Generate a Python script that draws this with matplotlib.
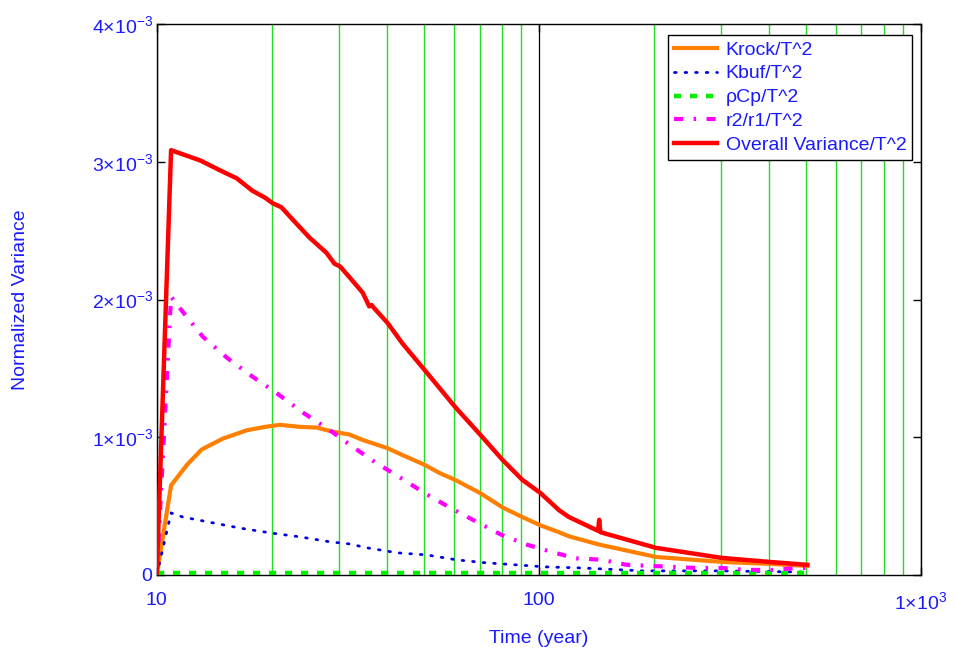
import matplotlib
matplotlib.use("Agg")
import matplotlib.pyplot as plt
from matplotlib.ticker import FixedLocator, FixedFormatter, NullFormatter

plt.rcParams['font.family'] = ['Liberation Sans', 'DejaVu Sans']
plt.rcParams['mathtext.fontset'] = 'custom'
plt.rcParams['mathtext.rm'] = 'Liberation Sans'
plt.rcParams['mathtext.it'] = 'Liberation Sans'

BLUE = '#1a1aff'

# ---- data ----
t_total = [10, 10.9, 13.0, 14.6, 16.2, 17.8, 19.2, 20.1, 21.2, 22.7, 25.1, 27.8, 29.2, 30.2, 32.0,
           34.6, 36.0, 36.5, 37.0, 40.2, 44.0, 50.2, 60.4, 70.2, 80.4, 90.6, 101, 113, 120,
           143, 144, 145, 203, 302, 402, 505]
v_total = [0, 3.085, 3.01, 2.94, 2.88, 2.79, 2.74, 2.70, 2.67, 2.58, 2.45, 2.34, 2.26, 2.24, 2.16,
           2.05, 1.95, 1.96, 1.94, 1.83, 1.68, 1.49, 1.22, 1.02, 0.835, 0.69, 0.595, 0.47, 0.42,
           0.32, 0.40, 0.31, 0.196, 0.123, 0.094, 0.073]

t_krock = [10, 10.9, 12.0, 13.1, 14.9, 17.2, 19.2, 21.0, 23.7, 26.2, 28.9, 31.9, 34.6, 40.2, 44.0,
           50.2, 55.0, 60.4, 70.2, 80.4, 90.6, 101, 113, 120, 144, 203, 302, 402, 505]
v_krock = [0, 0.65, 0.80, 0.91, 0.99, 1.05, 1.075, 1.09, 1.075, 1.07, 1.04, 1.02, 0.98, 0.92, 0.87,
           0.80, 0.74, 0.69, 0.595, 0.49, 0.42, 0.36, 0.31, 0.28, 0.22, 0.13, 0.094, 0.08, 0.065]

t_kbuf = [10, 10.9, 11.7, 13.9, 16.5, 19.8, 23.7, 28.4, 31.9, 35.6, 42.7, 50.9, 61, 73, 87, 104,
          130, 188, 297, 503]
v_kbuf = [0, 0.45, 0.42, 0.38, 0.34, 0.305, 0.276, 0.24, 0.225, 0.196, 0.16, 0.145, 0.109, 0.087,
          0.073, 0.058, 0.05, 0.029, 0.029, 0.02]

t_rhocp = [10, 20, 50, 100, 200, 505]
v_rhocp = [0.015, 0.015, 0.015, 0.015, 0.015, 0.015]

t_r2r1 = [10, 10.9, 11.7, 13.2, 15.3, 17.8, 20.6, 24.1, 28.4, 32.6, 37.2, 43.2, 50.2, 58.4, 68.8,
          80, 93, 108, 125, 146, 170, 198, 259, 302, 350, 410, 475, 505]
v_r2r1 = [0, 2.02, 1.91, 1.73, 1.575, 1.44, 1.32, 1.18, 1.05, 0.93, 0.82, 0.71, 0.595, 0.49, 0.385,
          0.29, 0.22, 0.167, 0.12, 0.11, 0.073, 0.065, 0.05, 0.05, 0.036, 0.036, 0.05, 0.05]

labels = ['Krock/T^2', 'Kbuf/T^2', 'ρCp/T^2', 'r2/r1/T^2', 'Overall Variance/T^2']

y_ticks = [0, 1e-3, 2e-3, 3e-3, 4e-3]
y_ticklabels = ['0', r'$1{\times}10^{-3}$', r'$2{\times}10^{-3}$', r'$3{\times}10^{-3}$', r'$4{\times}10^{-3}$']
x_ticks = [10, 100, 1000]
x_ticklabels = ['10', '100', r'$1{\times}10^{3}$']
x_minor = [20, 30, 40, 50, 60, 70, 80, 90, 200, 300, 400, 500, 600, 700, 800, 900]

s = 1e-3
fig = plt.figure(figsize=(9.56, 6.54), dpi=100)
ax = fig.add_axes([0.164, 0.121, 0.799, 0.842])
ax.set_xscale('log')

ax.plot(t_krock, [v * s for v in v_krock], color='#ff8000', lw=3.0, label=labels[0], zorder=4)
ax.plot(t_kbuf, [v * s for v in v_kbuf], color='#0000e0', lw=2.0, linestyle=(0, (0.6, 3.2)),
        dash_capstyle='round', label=labels[1], zorder=4)
ax.plot(t_rhocp, [v * s for v in v_rhocp], color='#00ee00', lw=3.2, linestyle=(0, (1.6, 2.0)),
        label=labels[2], zorder=4)
ax.plot(t_r2r1, [v * s for v in v_r2r1], color='#ff00ff', lw=3.0, linestyle=(0, (2.2, 2.5, 0.6, 2.5)),
        label=labels[3], zorder=4)
ax.plot(t_total, [v * s for v in v_total], color='#ff0000', lw=3.2, label=labels[4], zorder=5)

ax.set_xlim(10, 1000)
ax.set_ylim(0, 4e-3)

ax.xaxis.set_major_locator(FixedLocator(x_ticks))
ax.xaxis.set_major_formatter(FixedFormatter(x_ticklabels))
ax.xaxis.set_minor_locator(FixedLocator(x_minor))
ax.xaxis.set_minor_formatter(NullFormatter())
ax.yaxis.set_major_locator(FixedLocator(y_ticks))
ax.yaxis.set_major_formatter(FixedFormatter(y_ticklabels))

ax.grid(True, which='major', axis='x', color='black', lw=0.9, zorder=1)
ax.grid(True, which='minor', axis='x', color='#22dd22', lw=1.0, zorder=1)
ax.set_axisbelow(True)

ax.tick_params(axis='both', which='major', direction='in', length=6, width=1,
               labelsize=14, labelcolor=BLUE, top=True, right=True)
ax.tick_params(axis='x', which='major', pad=12)
ax.tick_params(axis='y', which='major', pad=3)
ax.tick_params(axis='x', which='minor', length=0)
for sp in ax.spines.values():
    sp.set_color('black')
    sp.set_linewidth(1.0)

ax.set_xlabel('Time (year)', color=BLUE, fontsize=14, labelpad=12)
ax.set_ylabel('Normalized Variance', color=BLUE, fontsize=14, labelpad=45)

leg = ax.legend(loc='upper right', bbox_to_anchor=(0.989, 0.98), fontsize=14, frameon=True,
                fancybox=False, edgecolor='black', framealpha=1, borderpad=0.3, labelspacing=0.32,
                handlelength=2.2, handletextpad=0.45, borderaxespad=0)
leg.get_frame().set_linewidth(1.0)
for txt in leg.get_texts():
    txt.set_color(BLUE)

fig.savefig('out.png', dpi=100)
